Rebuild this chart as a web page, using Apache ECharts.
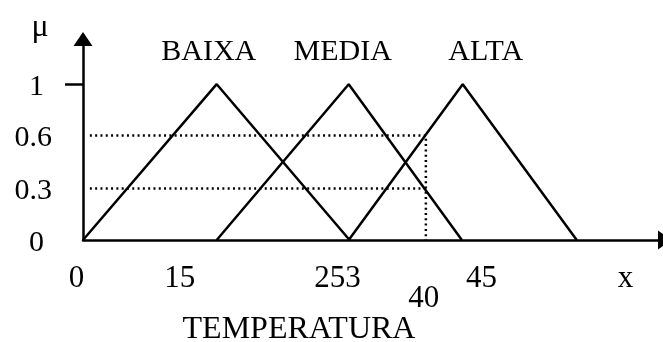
<!DOCTYPE html>
<html>
<head>
<meta charset="utf-8">
<script src="https://cdn.jsdelivr.net/npm/echarts@6/dist/echarts.min.js"></script>
<style>
  html, body { margin: 0; padding: 0; background: #fff; }
  #chart { width: 663px; height: 342px; }
</style>
</head>
<body>
<div id="chart"></div>
<script>
// conjuntos fuzzy (x, mu)
const baixa = [[0, 0], [15.6, 1], [31.1, 0]];
const media = [[15.6, 0], [31.0, 1], [44.2, 0]];
const alta = [[31.0, 0], [44.3, 1], [57.6, 0]];
const setNames = ['BAIXA', 'MEDIA', 'ALTA'];

// leitura em x = 40
const cutX = 40;
const muHigh = 0.67;
const muLow = 0.33;
const guideStart = 0.8;

// rotulos dos eixos
const xTickValues = [0, 11.3, 29.7, 46.5, 63.3];
const xTickLabels = ['0', '15', '253', '45', 'x'];
const xLowValues = [39.75];
const xLowLabels = ['40'];
const yTickValues = [0, 0.33, 0.67, 1];
const yTickLabels = ['0', '0.3', '0.6', '1'];

const xMax = 67.9;
const yMax = 1.29;
const font = 'Liberation Serif';

function pick(values, labels, v) {
    let best = 0;
    values.forEach((t, i) => {
        if (Math.abs(t - v) < Math.abs(values[best] - v)) best = i;
    });
    return labels[best];
}

const chart = echarts.init(document.getElementById('chart'));

const labelShift = [-8, -6, 23];

function triangle(points, idx) {
    return {
        type: 'line',
        name: setNames[idx],
        data: points.map((p, i) => i === 1 ? {
            value: p,
            label: {
                show: true,
                formatter: setNames[idx],
                position: 'top',
                distance: 17,
                offset: [labelShift[idx], 0],
                fontFamily: font,
                fontSize: 30,
                color: '#000'
            }
        } : p),
        symbol: 'circle',
        symbolSize: 1,
        itemStyle: { color: '#000' },
        lineStyle: { color: '#000', width: 2.5 },
        animation: false
    };
}

const dotted = { color: '#000', width: 2.5, type: [2, 3.3] };

const option = {
    backgroundColor: '#fff',
    animation: false,
    grid: { left: 83, right: -2, top: 39, bottom: 102, containLabel: false, outerBoundsMode: 'none' },
    xAxis: [
        {
            type: 'value',
            min: 0,
            max: xMax,
            name: 'TEMPERATURA',
            nameLocation: 'middle',
            nameGap: 74,
            nameTextStyle: { fontFamily: font, fontSize: 32, color: '#000', padding: [0, 150, 0, 0] },
            splitLine: { show: false },
            axisTick: { show: false },
            axisLine: {
                show: true,
                symbol: ['none', 'triangle'],
                symbolSize: [19, 14],
                lineStyle: { color: '#000', width: 2.5 }
            },
            axisLabel: {
                customValues: xTickValues,
                margin: 23,
                formatter: v => {
                    const t = pick(xTickValues, xTickLabels, v);
                    return t === '0' ? '{l|' + t + '}' : '{n|' + t + '}';
                },
                rich: {
                    n: { fontFamily: font, fontSize: 31, color: '#000' },
                    l: { fontFamily: font, fontSize: 31, color: '#000', padding: [0, 13, 0, 0] }
                }
            }
        },
        {
            type: 'value',
            position: 'bottom',
            min: 0,
            max: xMax,
            splitLine: { show: false },
            axisTick: { show: false },
            axisLine: { show: false },
            axisLabel: {
                customValues: xLowValues,
                margin: 43,
                formatter: v => pick(xLowValues, xLowLabels, v),
                fontFamily: font,
                fontSize: 31,
                color: '#000'
            }
        }
    ],
    yAxis: {
        type: 'value',
        min: 0,
        max: yMax,
        name: 'μ',
        nameLocation: 'end',
        nameGap: -5,
        nameTextStyle: { fontFamily: font, fontSize: 32, color: '#000', padding: [0, 86, 0, 0] },
        splitLine: { show: false },
        axisTick: {
            show: true,
            customValues: [1],
            length: 18,
            lineStyle: { color: '#000', width: 2.5 }
        },
        axisLine: {
            show: true,
            symbol: ['none', 'triangle'],
            symbolSize: [19, 14],
            lineStyle: { color: '#000', width: 2.5 }
        },
        axisLabel: {
            customValues: yTickValues,
            margin: 31,
            formatter: v => {
                const t = pick(yTickValues, yTickLabels, v);
                return t.length === 1 ? '{w|' + t + '}' : '{d|' + t + '}';
            },
            rich: {
                w: { fontFamily: font, fontSize: 30, color: '#000', padding: [6, 8, 0, 0] },
                d: { fontFamily: font, fontSize: 30, color: '#000', padding: [6, 0, 0, 0] }
            }
        }
    },
    series: [
        triangle(baixa, 0),
        triangle(media, 1),
        triangle(alta, 2),
        {
            type: 'line',
            data: [[guideStart, muHigh], [cutX, muHigh], [cutX, 0]],
            symbol: 'none',
            lineStyle: dotted
        },
        {
            type: 'line',
            data: [[guideStart, muLow], [cutX, muLow]],
            symbol: 'none',
            lineStyle: dotted
        }
    ]
};

chart.setOption(option);
</script>
</body>
</html>
